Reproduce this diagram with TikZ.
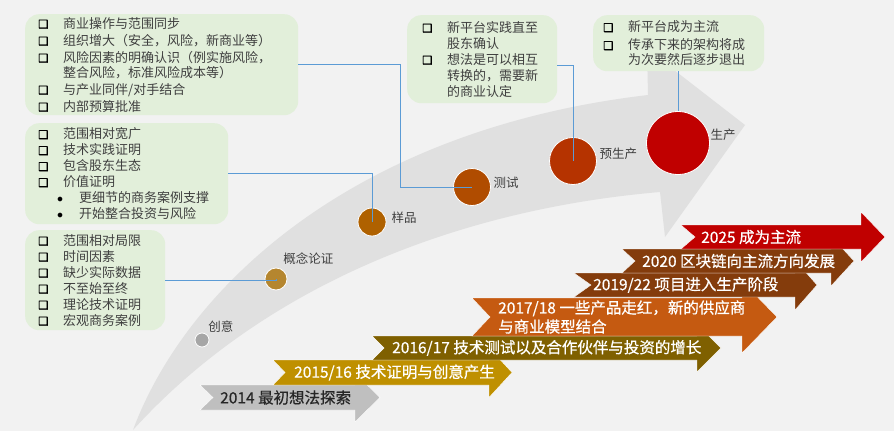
\documentclass[tikz,border=0pt]{standalone}
\usepackage{fontspec}
\setmainfont{Noto Sans CJK SC}
\newfontfamily\symfont{DejaVu Sans}[FakeBold=2]
\newfontfamily\yrfont{Noto Sans CJK SC}[FakeBold=0.6]
\usetikzlibrary{positioning}
\definecolor{bgcol}{HTML}{F2F2F2}
\definecolor{bandcol}{HTML}{E0E0E0}
\definecolor{boxcol}{HTML}{E2EFDA}
\definecolor{linkcol}{HTML}{5B9BD5}
\definecolor{txtcol}{HTML}{3F3F3F}
\definecolor{yr1}{HTML}{BFBFBF}
\definecolor{yr2}{HTML}{BF9000}
\definecolor{yr3}{HTML}{7F6000}
\definecolor{yr4}{HTML}{C55A11}
\definecolor{yr5}{HTML}{843C0C}
\definecolor{yr7}{HTML}{C00000}
\definecolor{st1}{HTML}{A6A6A6}
\definecolor{st2}{HTML}{B5862F}
\definecolor{st3}{HTML}{AF6100}
\definecolor{st4}{HTML}{B04C00}
\definecolor{st5}{HTML}{B53300}
\definecolor{st6}{HTML}{C00000}
\newcommand{\sqb}{\makebox[25pt][l]{\color{black}\symfont\fontsize{11.5}{11.5}\selectfont ❑}}
\newcommand{\cnt}{\hspace*{25pt}}
\newcommand{\subb}{\hspace*{22pt}\makebox[0pt]{\color{black}$\bullet$}\hspace{19pt}}
\begin{document}
\begin{tikzpicture}[x=1pt, y=-1pt,
    infobox/.style={fill=boxcol, rounded corners=14pt, anchor=north west, align=left, inner ysep=0pt, text=txtcol, font=\fontsize{13}{15}\selectfont},
    milestone/.style={circle, draw=white, line width=0.8pt, inner sep=0pt},
    stage/.style={inner sep=0pt, text=txtcol, font=\fontsize{12.5}{15}\selectfont},
    link/.style={draw=linkcol, line width=0.8pt},
    year/.style={anchor=west, align=left, inner sep=0pt, font=\yrfont\fontsize{15.5}{19}\selectfont}]
\useasboundingbox (0,0) rectangle (894,431);
\fill[bgcol] (0,0) rectangle (894,431);
% curved background arrow
\fill[bandcol] (133,430) .. controls (185,290) and (350,130) .. (648,95) -- (647,49) -- (745,125) -- (665,237) -- (660,192) .. controls (450,210) and (260,290) .. (133,430) -- cycle;
% year arrows
\foreach \xl/\xr/\xt/\ym/\hh/\nd/\ex/\fc/\tcol/\tx/\lab [count=\i] in {
    200/355/380/397.5/12.5/13/12/yr1/black!85/220/{2014 最初想法探索},
    273/489/512/372.5/12.5/12/12.5/yr2/white/294/{2015/16 技术证明与创意产生},
    372/697/721/348/12/12/12/yr3/white/392/{2016/17 技术测试以及合作伙伴与投资的增长},
    472/742/777/317/19/18/17/yr4/white/498/{2017/18 一些产品走红，新的供应商\\与商业模型结合},
    574/795/817/285/12/17/13/yr5/white/593/{2019/22 项目进入生产阶段},
    622/831/854/261/12/13/13/yr5/white/642/{2020 区块链向主流方向发展},
    681/861/885/237/12/14/13/yr7/white/701/{2025 成为主流}}
{
    \fill[\fc, draw=white, line width=0.4pt] (\xl,\ym-\hh) -- (\xr,\ym-\hh) -- (\xr,\ym-\hh-\ex) -- (\xt,\ym) -- (\xr,\ym+\hh+\ex) -- (\xr,\ym+\hh) -- (\xl,\ym+\hh) -- (\xl+\nd,\ym) -- cycle;
    \node[year, text=\tcol] (yr-\i) at (\tx,\ym) {\lab};
}
% text boxes
\node[infobox, minimum height=101pt, text width=247pt, inner xsep=13pt] (boxA) at (25,14) {\sqb 商业操作与范围同步\\[2pt]
    \sqb 组织增大（安全，风险，新商业等）\\[2pt]
    \sqb 风险因素的明确认识（例实施风险，\\
    \cnt 整合风险，标准风险成本等）\\[2pt]
    \sqb 与产业同伴/对手结合\\[2pt]
    \sqb 内部预算批准};
\node[infobox, minimum height=101pt, text width=177pt, inner xsep=13pt] (boxB) at (25,123) {\sqb 范围相对宽广\\[1pt]
    \sqb 技术实践证明\\[1pt]
    \sqb 包含股东生态\\[1pt]
    \sqb 价值证明\\[1pt]
    \subb 更细节的商务案例支撑\\[1pt]
    \subb 开始整合投资与风险};
\node[infobox, minimum height=100pt, text width=114pt, inner xsep=13pt] (boxC) at (25,230) {\sqb 范围相对局限\\[1pt]
    \sqb 时间因素\\[1pt]
    \sqb 缺少实际数据\\[1pt]
    \sqb 不至始至终\\[1pt]
    \sqb 理论技术证明\\[1pt]
    \sqb 宏观商务案例};
\node[infobox, minimum height=88pt, text width=120pt, inner xsep=15pt] (boxD) at (407,15) {\sqb 新平台实践直至\\[1pt]
    \cnt 股东确认\\[1pt]
    \sqb 想法是可以相互\\[1pt]
    \cnt 转换的，需要新\\[1pt]
    \cnt 的商业认定};
\node[infobox, minimum height=56pt, text width=151pt, inner xsep=10pt] (boxE) at (593,15) {\sqb 新平台成为主流\\[3pt]
    \sqb 传承下来的架构将成\\
    \cnt 为次要然后逐步退出};
% stages
\node[milestone, fill=st1, minimum size=14pt] (c1) at (202,340) {};
\node[milestone, fill=st2, minimum size=22pt] (c2) at (276,279) {};
\node[milestone, fill=st3, minimum size=28pt] (c3) at (372,222) {};
\node[milestone, fill=st4, minimum size=37pt] (c4) at (472,187) {};
\node[milestone, fill=st5, minimum size=47pt] (c5) at (573,161) {};
\node[milestone, fill=st6, minimum size=63pt] (c6) at (678,143) {};
\node[stage, above right=2pt and 1pt of c1] (l1) {创意};
\node[stage, above right=6pt and -1pt of c2] (l2) {概念论证};
\node[stage, right=5pt of c3, yshift=4pt] (l3) {样品};
\node[stage, right=2.5pt of c4, yshift=4pt] (l4) {测试};
\node[stage, right=2.5pt of c5, yshift=7pt] (l5) {预生产};
\node[stage, right=0.5pt of c6, yshift=8pt] (l6) {生产};
% connectors
\draw[link] (boxA.east) -- ++(102,0) |- (c4.center);
\draw[link] (boxB.east) -| (c3.center);
\draw[link] (boxC.east) -| (c2.center);
\draw[link] ([yshift=-6pt]boxD.east) -| (c5.center);
\draw[link] (boxE.south) -- (boxE.south |- c6.north);
\end{tikzpicture}
\end{document}
